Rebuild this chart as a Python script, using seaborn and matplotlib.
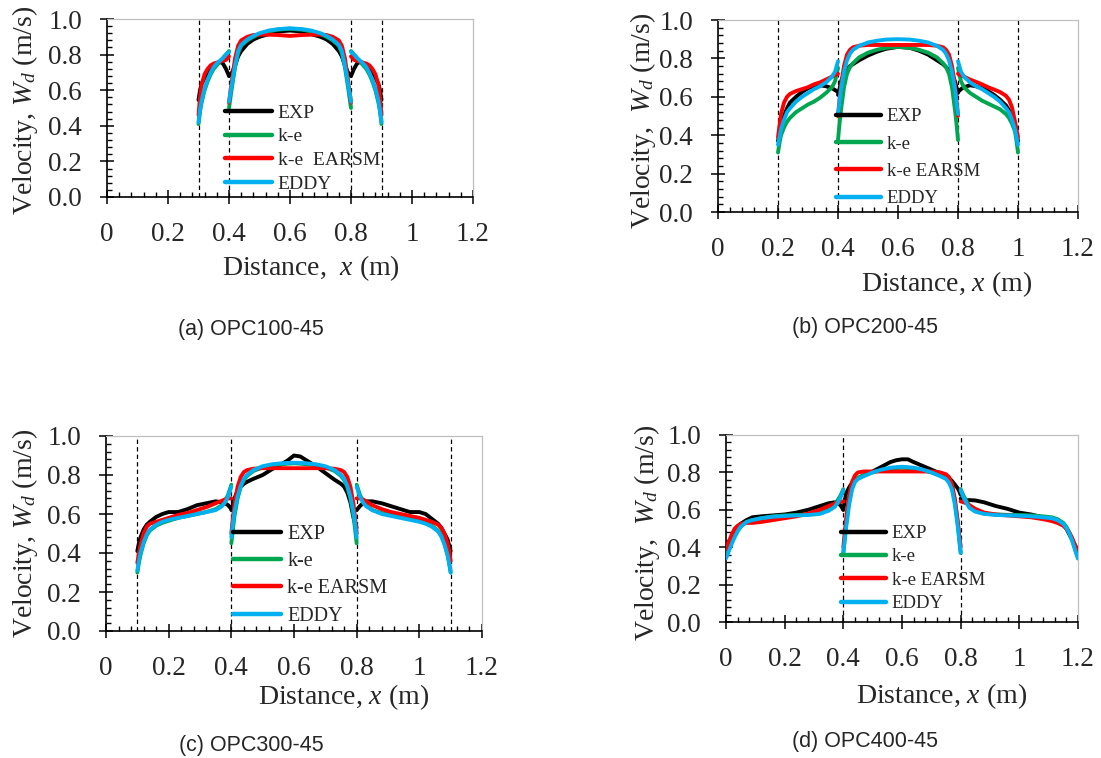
import numpy as np
import pandas as pd
import matplotlib
matplotlib.use("Agg")
import matplotlib.pyplot as plt
from matplotlib.ticker import MultipleLocator, FuncFormatter
import seaborn as sns

# ---------------------------------------------------------------- data
MODELS = ["EXP", "k-e", "k-e EARSM", "EDDY"]
COLORS = ["#000000", "#00A650", "#FF0000", "#00B0F0"]

# (a) OPC100-45
A_X1 = [0.30, 0.305, 0.31, 0.32, 0.33, 0.34, 0.35, 0.36, 0.37, 0.38, 0.39, 0.40]
A_EXP1 = [0.545, 0.60, 0.635, 0.67, 0.70, 0.72, 0.735, 0.75, 0.76, 0.75, 0.72, 0.68]
A_KE1 = [0.41, 0.48, 0.53, 0.60, 0.65, 0.69, 0.72, 0.74, 0.76, 0.78, 0.80, 0.82]
A_EARSM1 = [0.46, 0.56, 0.63, 0.69, 0.72, 0.74, 0.75, 0.755, 0.76, 0.765, 0.77, 0.79]
A_EDDY1 = [0.42, 0.49, 0.54, 0.61, 0.66, 0.70, 0.73, 0.75, 0.765, 0.78, 0.80, 0.815]

A_X2 = [0.40, 0.41, 0.42, 0.43, 0.44, 0.46, 0.48, 0.50, 0.53, 0.56, 0.60,
        0.64, 0.67, 0.70, 0.72, 0.74, 0.76, 0.77, 0.78, 0.79, 0.80]
A_EXP2 = [0.68, 0.70, 0.74, 0.79, 0.82, 0.86, 0.885, 0.90, 0.915, 0.93, 0.935,
          0.93, 0.915, 0.90, 0.885, 0.86, 0.82, 0.79, 0.74, 0.70, 0.68]
A_KE2 = [0.50, 0.62, 0.73, 0.81, 0.85, 0.88, 0.90, 0.915, 0.93, 0.94, 0.945,
         0.94, 0.93, 0.915, 0.90, 0.88, 0.85, 0.81, 0.73, 0.62, 0.50]
A_EARSM2 = [0.53, 0.66, 0.78, 0.85, 0.88, 0.90, 0.91, 0.912, 0.912, 0.91, 0.905,
            0.91, 0.912, 0.912, 0.91, 0.90, 0.88, 0.85, 0.78, 0.66, 0.53]
A_EDDY2 = [0.535, 0.64, 0.74, 0.82, 0.855, 0.885, 0.905, 0.92, 0.935, 0.943, 0.948,
           0.943, 0.935, 0.92, 0.905, 0.885, 0.855, 0.82, 0.74, 0.64, 0.535]

A_X3 = [0.80, 0.81, 0.82, 0.83, 0.84, 0.85, 0.86, 0.87, 0.88, 0.89, 0.895, 0.90]
A_EXP3 = [0.68, 0.72, 0.75, 0.76, 0.75, 0.735, 0.72, 0.70, 0.67, 0.635, 0.60, 0.545]
A_KE3 = [0.82, 0.80, 0.78, 0.76, 0.74, 0.72, 0.69, 0.65, 0.60, 0.53, 0.48, 0.41]
A_EARSM3 = [0.79, 0.77, 0.765, 0.76, 0.755, 0.75, 0.74, 0.72, 0.69, 0.63, 0.56, 0.46]
A_EDDY3 = [0.815, 0.80, 0.78, 0.765, 0.75, 0.73, 0.70, 0.66, 0.61, 0.54, 0.49, 0.42]

# (b) OPC200-45
B_X1 = [0.20, 0.205, 0.21, 0.22, 0.23, 0.24, 0.26, 0.28, 0.30, 0.32, 0.34, 0.36, 0.38, 0.39, 0.40]
B_EXP1 = [0.37, 0.41, 0.45, 0.50, 0.54, 0.57, 0.60, 0.625, 0.645, 0.655, 0.66, 0.655, 0.645, 0.635, 0.625]
B_KE1 = [0.31, 0.36, 0.40, 0.44, 0.47, 0.49, 0.52, 0.54, 0.56, 0.575, 0.595, 0.62, 0.65, 0.68, 0.75]
B_EARSM1 = [0.39, 0.45, 0.51, 0.57, 0.60, 0.615, 0.63, 0.64, 0.65, 0.665, 0.675, 0.69, 0.705, 0.712, 0.72]
B_EDDY1 = [0.35, 0.39, 0.43, 0.48, 0.52, 0.54, 0.575, 0.60, 0.62, 0.64, 0.655, 0.675, 0.705, 0.73, 0.785]

B_X2 = [0.40, 0.405, 0.41, 0.42, 0.43, 0.44, 0.45, 0.47, 0.50, 0.53, 0.56, 0.60,
        0.64, 0.67, 0.70, 0.73, 0.75, 0.76, 0.77, 0.78, 0.79, 0.795, 0.80]
B_EXP2 = [0.61, 0.64, 0.68, 0.72, 0.745, 0.76, 0.77, 0.79, 0.815, 0.835, 0.85, 0.86,
          0.855, 0.84, 0.82, 0.79, 0.77, 0.755, 0.74, 0.72, 0.68, 0.65, 0.62]
B_KE2 = [0.375, 0.46, 0.53, 0.65, 0.72, 0.755, 0.775, 0.805, 0.83, 0.845, 0.855, 0.86,
         0.855, 0.845, 0.83, 0.805, 0.775, 0.755, 0.72, 0.65, 0.53, 0.46, 0.375]
B_EARSM2 = [0.50, 0.58, 0.66, 0.76, 0.82, 0.845, 0.858, 0.866, 0.87, 0.87, 0.87, 0.87,
            0.87, 0.87, 0.87, 0.866, 0.858, 0.845, 0.82, 0.76, 0.66, 0.58, 0.50]
B_EDDY2 = [0.51, 0.57, 0.64, 0.73, 0.79, 0.825, 0.845, 0.865, 0.883, 0.892, 0.898, 0.90,
           0.898, 0.892, 0.883, 0.865, 0.845, 0.825, 0.79, 0.73, 0.64, 0.57, 0.51]

B_X3 = [0.80, 0.81, 0.82, 0.84, 0.86, 0.88, 0.90, 0.92, 0.94, 0.96, 0.97, 0.98, 0.99, 0.995, 1.00]
B_EXP3 = [0.625, 0.64, 0.65, 0.66, 0.655, 0.645, 0.63, 0.61, 0.585, 0.555, 0.53, 0.50, 0.45, 0.41, 0.37]
B_KE3 = [0.75, 0.68, 0.65, 0.62, 0.60, 0.58, 0.565, 0.55, 0.535, 0.51, 0.49, 0.46, 0.42, 0.37, 0.31]
B_EARSM3 = [0.72, 0.712, 0.705, 0.69, 0.678, 0.665, 0.65, 0.638, 0.625, 0.605, 0.585, 0.545, 0.47, 0.43, 0.39]
B_EDDY3 = [0.785, 0.73, 0.705, 0.675, 0.655, 0.64, 0.62, 0.60, 0.575, 0.54, 0.52, 0.48, 0.43, 0.39, 0.35]

# (c) OPC300-45
C_X1 = [0.10, 0.105, 0.11, 0.12, 0.13, 0.14, 0.16, 0.18, 0.20, 0.23, 0.26, 0.29,
        0.32, 0.35, 0.37, 0.38, 0.39, 0.40]
C_EXP1 = [0.41, 0.45, 0.48, 0.52, 0.545, 0.56, 0.585, 0.60, 0.61, 0.61, 0.625, 0.645,
          0.655, 0.665, 0.66, 0.655, 0.645, 0.625]
C_KE1 = [0.30, 0.35, 0.39, 0.45, 0.49, 0.515, 0.54, 0.555, 0.565, 0.58, 0.59, 0.60,
         0.61, 0.625, 0.645, 0.665, 0.70, 0.75]
C_EARSM1 = [0.35, 0.40, 0.44, 0.50, 0.535, 0.55, 0.56, 0.57, 0.58, 0.595, 0.605, 0.62,
            0.635, 0.655, 0.668, 0.675, 0.68, 0.68]
C_EDDY1 = [0.31, 0.36, 0.40, 0.455, 0.495, 0.52, 0.545, 0.56, 0.57, 0.58, 0.59, 0.60,
           0.61, 0.62, 0.64, 0.66, 0.69, 0.74]

C_X2 = [0.40, 0.405, 0.41, 0.42, 0.43, 0.44, 0.45, 0.47, 0.50, 0.53, 0.56, 0.58, 0.60,
        0.62, 0.64, 0.67, 0.70, 0.73, 0.75, 0.76, 0.77, 0.78, 0.79, 0.795, 0.80]
C_EXP2 = [0.62, 0.65, 0.68, 0.72, 0.74, 0.755, 0.765, 0.78, 0.80, 0.83, 0.855, 0.875, 0.90,
          0.895, 0.875, 0.845, 0.81, 0.775, 0.755, 0.74, 0.71, 0.66, 0.58, 0.55, 0.53]
C_KE2 = [0.45, 0.52, 0.59, 0.68, 0.74, 0.775, 0.795, 0.82, 0.84, 0.85, 0.855, 0.858, 0.86,
         0.858, 0.855, 0.85, 0.84, 0.82, 0.795, 0.775, 0.74, 0.68, 0.59, 0.52, 0.45]
C_EARSM2 = [0.50, 0.58, 0.65, 0.74, 0.79, 0.815, 0.825, 0.832, 0.835, 0.835, 0.835, 0.835, 0.835,
            0.835, 0.835, 0.835, 0.835, 0.832, 0.825, 0.815, 0.79, 0.74, 0.65, 0.58, 0.50]
C_EDDY2 = [0.48, 0.55, 0.61, 0.69, 0.745, 0.78, 0.80, 0.825, 0.845, 0.855, 0.86, 0.862, 0.863,
           0.862, 0.86, 0.855, 0.845, 0.825, 0.80, 0.78, 0.745, 0.69, 0.61, 0.55, 0.48]

C_X3 = [0.80, 0.81, 0.82, 0.83, 0.85, 0.88, 0.91, 0.94, 0.97, 1.00, 1.02, 1.04,
        1.06, 1.07, 1.08, 1.09, 1.095, 1.10]
C_EXP3 = [0.62, 0.64, 0.655, 0.665, 0.665, 0.655, 0.64, 0.625, 0.61, 0.61, 0.60, 0.575,
          0.55, 0.53, 0.50, 0.47, 0.44, 0.41]
C_KE3 = [0.75, 0.70, 0.665, 0.645, 0.62, 0.605, 0.595, 0.585, 0.575, 0.565, 0.555, 0.54,
         0.515, 0.49, 0.45, 0.39, 0.35, 0.30]
C_EARSM3 = [0.68, 0.68, 0.675, 0.665, 0.645, 0.625, 0.61, 0.60, 0.59, 0.58, 0.57, 0.56,
            0.545, 0.53, 0.50, 0.45, 0.41, 0.36]
C_EDDY3 = [0.74, 0.69, 0.66, 0.64, 0.62, 0.60, 0.59, 0.58, 0.57, 0.56, 0.55, 0.535,
           0.51, 0.485, 0.445, 0.39, 0.35, 0.30]

# (d) OPC400-45
D_X1 = [0.00, 0.01, 0.02, 0.03, 0.04, 0.05, 0.07, 0.09, 0.12, 0.16, 0.20, 0.24,
        0.28, 0.32, 0.35, 0.37, 0.38, 0.39, 0.40]
D_EXP1 = [0.37, 0.41, 0.45, 0.48, 0.51, 0.525, 0.545, 0.56, 0.565, 0.57, 0.575, 0.585,
          0.60, 0.62, 0.635, 0.64, 0.635, 0.625, 0.60]
D_KE1 = [0.35, 0.39, 0.43, 0.46, 0.49, 0.51, 0.535, 0.545, 0.555, 0.565, 0.57, 0.572,
         0.575, 0.585, 0.605, 0.63, 0.65, 0.675, 0.71]
D_EARSM1 = [0.39, 0.43, 0.47, 0.50, 0.515, 0.525, 0.53, 0.53, 0.535, 0.545, 0.555, 0.565,
            0.58, 0.60, 0.62, 0.632, 0.638, 0.642, 0.645]
D_EDDY1 = [0.34, 0.38, 0.42, 0.455, 0.485, 0.51, 0.535, 0.545, 0.555, 0.563, 0.567, 0.57,
           0.572, 0.578, 0.595, 0.615, 0.635, 0.665, 0.705]

D_X2 = [0.40, 0.405, 0.41, 0.42, 0.43, 0.44, 0.45, 0.47, 0.50, 0.53, 0.56, 0.58, 0.60,
        0.62, 0.64, 0.67, 0.70, 0.73, 0.75, 0.76, 0.77, 0.78, 0.79, 0.795, 0.80]
D_EXP2 = [0.60, 0.65, 0.69, 0.72, 0.745, 0.76, 0.77, 0.785, 0.805, 0.83, 0.855, 0.865, 0.87,
          0.87, 0.855, 0.835, 0.815, 0.795, 0.78, 0.77, 0.755, 0.735, 0.715, 0.70, 0.68]
D_KE2 = [0.37, 0.45, 0.53, 0.65, 0.72, 0.755, 0.77, 0.785, 0.80, 0.812, 0.82, 0.823, 0.825,
         0.823, 0.82, 0.812, 0.80, 0.785, 0.77, 0.755, 0.72, 0.65, 0.53, 0.45, 0.37]
D_EARSM2 = [0.40, 0.48, 0.56, 0.68, 0.75, 0.785, 0.80, 0.805, 0.805, 0.805, 0.805, 0.805, 0.805,
            0.805, 0.805, 0.805, 0.805, 0.80, 0.79, 0.775, 0.74, 0.66, 0.54, 0.47, 0.40]
D_EDDY2 = [0.37, 0.44, 0.51, 0.63, 0.71, 0.75, 0.765, 0.78, 0.80, 0.815, 0.825, 0.828, 0.83,
           0.828, 0.825, 0.815, 0.80, 0.78, 0.765, 0.745, 0.71, 0.63, 0.51, 0.44, 0.37]

D_X3 = [0.80, 0.81, 0.82, 0.83, 0.85, 0.88, 0.92, 0.96, 1.00, 1.04, 1.08, 1.11,
        1.13, 1.15, 1.16, 1.17, 1.18, 1.19, 1.20]
D_EXP3 = [0.66, 0.655, 0.65, 0.652, 0.65, 0.64, 0.62, 0.605, 0.585, 0.575, 0.56, 0.555,
          0.545, 0.52, 0.50, 0.47, 0.44, 0.41, 0.38]
D_KE3 = [0.71, 0.675, 0.645, 0.62, 0.595, 0.58, 0.575, 0.573, 0.572, 0.57, 0.565, 0.56,
         0.55, 0.53, 0.51, 0.48, 0.44, 0.39, 0.34]
D_EARSM3 = [0.645, 0.64, 0.635, 0.625, 0.605, 0.585, 0.575, 0.57, 0.565, 0.56, 0.55, 0.54,
            0.53, 0.515, 0.50, 0.48, 0.45, 0.41, 0.37]
D_EDDY3 = [0.705, 0.665, 0.635, 0.61, 0.59, 0.578, 0.572, 0.57, 0.568, 0.565, 0.56, 0.555,
           0.545, 0.525, 0.505, 0.475, 0.435, 0.385, 0.34]

# dashed section boundaries for each case
A_WALLS = [0.3, 0.4, 0.8, 0.9]
B_WALLS = [0.2, 0.4, 0.8, 1.0]
C_WALLS = [0.1, 0.4, 0.8, 1.1]
D_WALLS = [0.4, 0.8]

CAPTIONS = ["(a) OPC100-45", "(b) OPC200-45", "(c) OPC300-45", "(d) OPC400-45"]


def build_frame(segments):
    """segments: list of (x, exp, ke, earsm, eddy) tuples -> long DataFrame."""
    rows = []
    for s, (xs, *series) in enumerate(segments):
        for model, ys in zip(MODELS, series):
            for xv, yv in zip(xs, ys):
                rows.append({"x": xv, "v": yv, "model": model, "seg": s})
    return pd.DataFrame(rows)


FRAMES = [
    build_frame([(A_X1, A_EXP1, A_KE1, A_EARSM1, A_EDDY1),
                 (A_X2, A_EXP2, A_KE2, A_EARSM2, A_EDDY2),
                 (A_X3, A_EXP3, A_KE3, A_EARSM3, A_EDDY3)]),
    build_frame([(B_X1, B_EXP1, B_KE1, B_EARSM1, B_EDDY1),
                 (B_X2, B_EXP2, B_KE2, B_EARSM2, B_EDDY2),
                 (B_X3, B_EXP3, B_KE3, B_EARSM3, B_EDDY3)]),
    build_frame([(C_X1, C_EXP1, C_KE1, C_EARSM1, C_EDDY1),
                 (C_X2, C_EXP2, C_KE2, C_EARSM2, C_EDDY2),
                 (C_X3, C_EXP3, C_KE3, C_EARSM3, C_EDDY3)]),
    build_frame([(D_X1, D_EXP1, D_KE1, D_EARSM1, D_EDDY1),
                 (D_X2, D_EXP2, D_KE2, D_EARSM2, D_EDDY2),
                 (D_X3, D_EXP3, D_KE3, D_EARSM3, D_EDDY3)]),
]
WALLS = [A_WALLS, B_WALLS, C_WALLS, D_WALLS]
LEGEND_NAMES = [["EXP", "k-e", "k-e  EARSM", "EDDY"], MODELS, MODELS, MODELS]

# ---------------------------------------------------------------- style
sns.set_style("ticks")
plt.rcParams["font.family"] = ["Liberation Serif", "DejaVu Serif"]
plt.rcParams["mathtext.fontset"] = "custom"
plt.rcParams["mathtext.rm"] = "Liberation Serif"
plt.rcParams["mathtext.it"] = "Liberation Serif:italic"

W, H = 1101, 758
fig = plt.figure(figsize=(W / 100, H / 100), dpi=100)
fig.patch.set_facecolor("white")

# pixel boxes (left, top, right, bottom) of the four plot areas
BOXES = [(107, 19, 473, 197), (718, 20, 1078, 212),
         (106, 436, 482, 631), (726, 435, 1078, 622)]
XLABELS = ["Distance,  $x$ (m)", "Distance, $x$ (m)", "Distance, $x$ (m)", "Distance, $x$ (m)"]
YLABELS = ["Velocity, $W_d$ (m/s)", "Velocity,  $W_d$ (m/s)",
           "Velocity, $W_d$ (m/s)", "Velocity,  $W_d$ (m/s)"]
XLABEL_POS = [(311, 268), (947, 284), (344, 697), (942, 696)]
YLABEL_POS = [(25, 110), (643, 121), (25, 533), (647, 533)]
CAPTION_POS = [(251, 330), (865, 328), (251, 745), (865, 742)]
LEGEND_POS = [(225, 104), (836, 108), (233, 525), (841, 525)]
LEGEND_SIZE = [14, 13.5, 14.5, 13.5]
LEGEND_SPACING = [0.32, 0.55, 0.40, 0.33]


def px(x, y):
    return x / W, 1 - y / H


for i, (box, df) in enumerate(zip(BOXES, FRAMES)):
    l, t, r, b = box
    ax = fig.add_axes([l / W, 1 - b / H, (r - l) / W, (b - t) / H])

    for xw in WALLS[i]:
        ax.axvline(xw, color="black", lw=0.9, ls=(0, (3.5, 2.5)), zorder=1)

    df = df.copy()
    df["model"] = df["model"].map(dict(zip(MODELS, LEGEND_NAMES[i])))
    sns.lineplot(data=df, x="x", y="v", hue="model", units="seg",
                 estimator=None, sort=False, palette=COLORS,
                 hue_order=LEGEND_NAMES[i], linewidth=2.8, ax=ax, zorder=3)

    ax.set_xlim(0, 1.2)
    ax.set_ylim(0, 1.0)
    ax.xaxis.set_major_locator(MultipleLocator(0.2))
    ax.xaxis.set_minor_locator(MultipleLocator(0.04))
    ax.yaxis.set_major_locator(MultipleLocator(0.2))
    ax.yaxis.set_minor_locator(MultipleLocator(0.04))
    ax.xaxis.set_major_formatter(FuncFormatter(lambda v, p: f"{v:g}"))
    ax.yaxis.set_major_formatter(FuncFormatter(lambda v, p: f"{v:.1f}"))
    ax.tick_params(which="major", direction="inout", length=10, width=1.1,
                   labelsize=19.5, pad=13, color="black")
    ax.tick_params(which="minor", direction="in", length=3.5, width=1.0, color="black")

    for side in ("left", "bottom"):
        ax.spines[side].set_color("black")
        ax.spines[side].set_linewidth(1.2)
    for side in ("top", "right"):
        ax.spines[side].set_color("#BFBFBF")
        ax.spines[side].set_linewidth(0.9)

    ax.set_xlabel(XLABELS[i], fontsize=20, va="center", ha="center")
    ax.xaxis.set_label_coords(*px(*XLABEL_POS[i]), transform=fig.transFigure)
    ax.set_ylabel(YLABELS[i], fontsize=20, va="center", ha="center")
    ax.yaxis.set_label_coords(*px(*YLABEL_POS[i]), transform=fig.transFigure)

    sns.move_legend(ax, "upper left", bbox_to_anchor=px(*LEGEND_POS[i]),
                    bbox_transform=fig.transFigure, frameon=False, title=None,
                    fontsize=LEGEND_SIZE[i], handlelength=2.4, handletextpad=0.3,
                    labelspacing=LEGEND_SPACING[i], borderpad=0, borderaxespad=0)
    for h in ax.get_legend().legend_handles:
        h.set_linewidth(3.2)

    fig.text(*px(*CAPTION_POS[i]), CAPTIONS[i], ha="center", va="center",
             fontsize=15.5, family=["Liberation Sans", "DejaVu Sans"])

fig.savefig("out.png", dpi=100, facecolor="white")
